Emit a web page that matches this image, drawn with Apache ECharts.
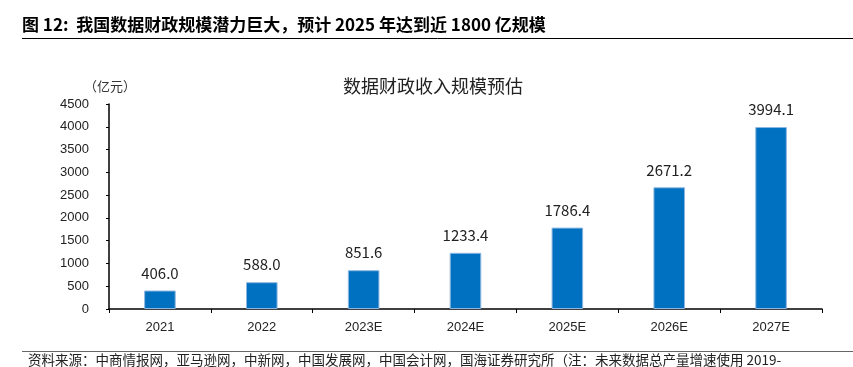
<!DOCTYPE html>
<html><head><meta charset="utf-8">
<script src="https://cdn.jsdelivr.net/npm/echarts@6/dist/echarts.min.js"></script>
<style>html,body{margin:0;padding:0;background:#fff}#c{width:853px;height:367px}</style>
</head><body><div id="c"></div>
<script>
const categories = ['2021','2022','2023E','2024E','2025E','2026E','2027E'];
const values = [406.0, 588.0, 851.6, 1233.4, 1786.4, 2671.2, 3994.1];
const yTicks = [0, 500, 1000, 1500, 2000, 2500, 3000, 3500, 4000, 4500];

const chart = echarts.init(document.getElementById('c'));
chart.setOption({
  animation: false,
  backgroundColor: '#fff',
  title: [
    {text: '图 12:  我国数据财政规模潜力巨大，预计 2025 年达到近 1800 亿规模', left: 22, top: 16, padding: 0,
     textStyle: {fontFamily: 'Noto Sans CJK SC', fontWeight: 'bold', fontSize: 17, color: '#000'}},
    {text: '数据财政收入规模预估', left: 433, top: 77, textAlign: 'center', padding: 0,
     textStyle: {fontFamily: 'Noto Sans CJK SC', fontWeight: 'normal', fontSize: 18, color: '#222'}},
    {text: '（亿元）', left: 84, top: 80, padding: 0,
     textStyle: {fontFamily: 'Noto Sans CJK SC', fontWeight: 'normal', fontSize: 13, color: '#333'}},
    {text: '资料来源：中商情报网，亚马逊网，中新网，中国发展网，中国会计网，国海证券研究所（注：未来数据总产量增速使用 2019-', left: 28, top: 353, padding: 0,
     textStyle: {fontFamily: 'Noto Sans CJK SC', fontWeight: 'normal', fontSize: 13.5, color: '#222', lineHeight: 14}}
  ],
  graphic: [
    {type: 'line', shape: {x1: 22, y1: 38.5, x2: 853, y2: 38.5}, style: {stroke: '#000', lineWidth: 1}},
    {type: 'line', shape: {x1: 22, y1: 351.5, x2: 853, y2: 351.5}, style: {stroke: '#666', lineWidth: 1}}
  ],
  grid: {left: 109, right: 31, top: 104, bottom: 58, containLabel: false},
  xAxis: {
    type: 'category', data: categories,
    axisLine: {lineStyle: {color: '#000', width: 1.5}},
    axisTick: {show: true, length: 4, lineStyle: {color: '#000'}},
    axisLabel: {fontFamily: 'Liberation Sans', fontSize: 13, color: '#222', margin: 12}
  },
  yAxis: {
    type: 'value', min: yTicks[0], max: yTicks[yTicks.length-1], interval: 500,
    axisLine: {show: true, lineStyle: {color: '#000', width: 1.5}},
    axisTick: {show: true, length: 3, lineStyle: {color: '#000'}},
    splitLine: {show: false},
    axisLabel: {fontFamily: 'Liberation Sans', fontSize: 13, color: '#222', margin: 20, formatter: v => String(v)}
  },
  series: [{
    type: 'bar', data: values, barWidth: '31%',
    itemStyle: {color: '#0070C0', borderColor: '#8db7e0', borderWidth: 1},
    label: {show: true, position: 'top', distance: 10, formatter: p => p.value.toFixed(1),
      fontFamily: 'Noto Sans CJK SC', fontSize: 15, color: '#222'}
  }]
});
</script></body></html>
